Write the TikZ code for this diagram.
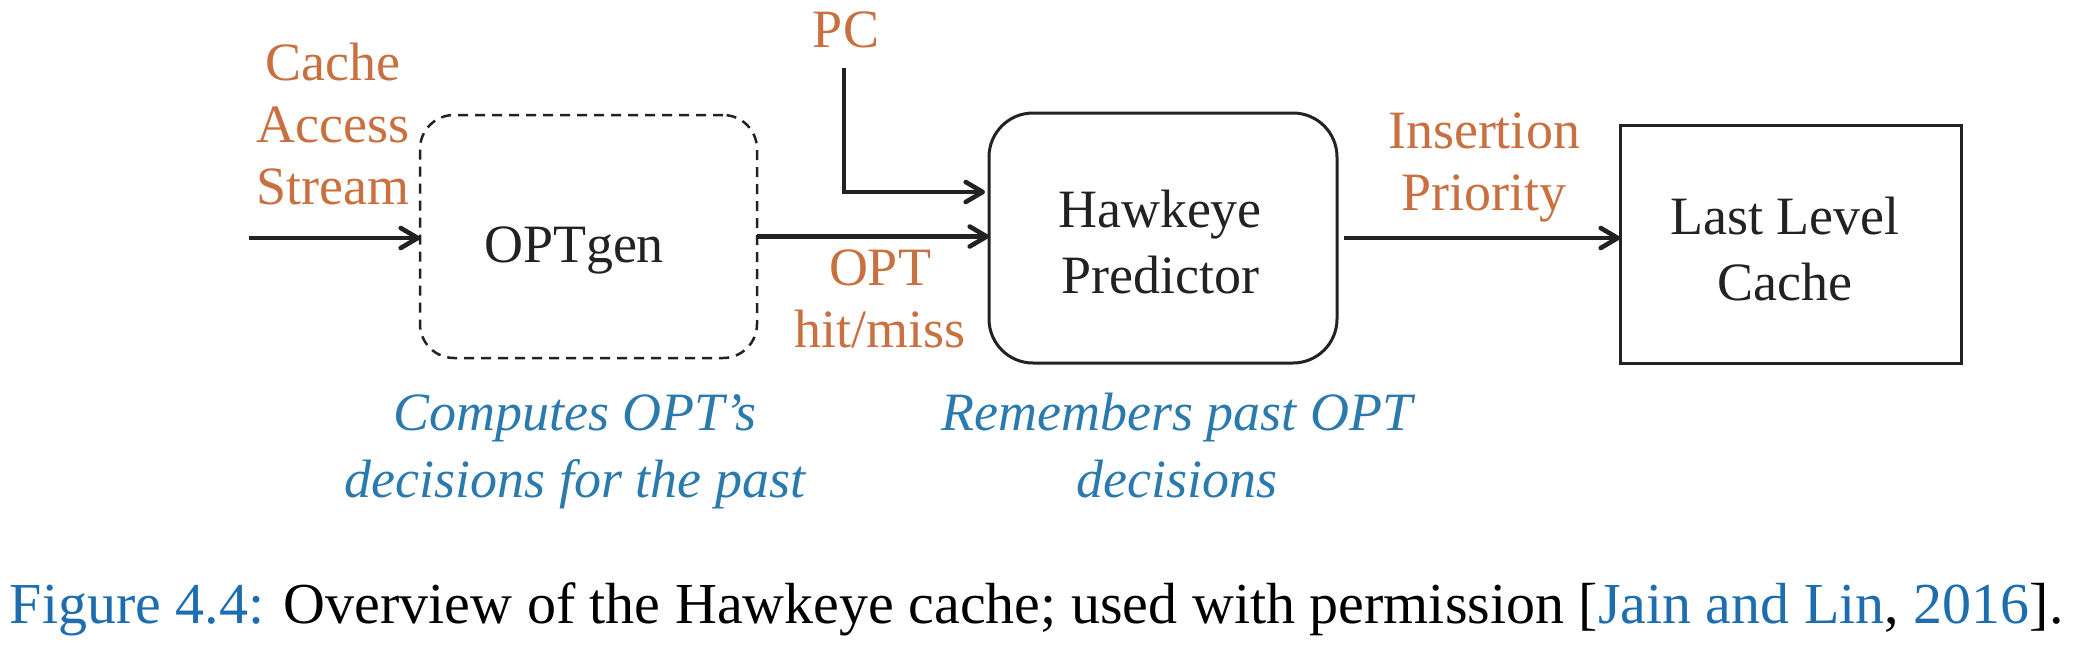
\documentclass[tikz,border=0pt]{standalone}
\usepackage{fontspec}
\setmainfont{Liberation Serif}
\usetikzlibrary{arrows.meta}
\definecolor{lbl}{RGB}{200,112,63}
\definecolor{note}{RGB}{42,122,174}
\definecolor{cite}{RGB}{30,110,175}
\definecolor{ink}{RGB}{34,34,34}
\begin{document}
\begin{tikzpicture}[x=0.5pt,y=-0.5pt,
  every node/.style={inner sep=0pt, outer sep=0pt},
  lbltext/.style={text=lbl, align=center, anchor=base, font=\fontsize{27}{31}\selectfont},
  maintext/.style={text=ink, align=center, anchor=base, font=\fontsize{27}{33}\selectfont},
  notetext/.style={text=note, align=center, anchor=base, font=\fontsize{27}{33.5}\selectfont\itshape},
  boxshape/.style={draw=ink, line width=1.5pt},
  conn/.style={draw=ink, line width=2.3pt, -{Straight Barb[length=8.5pt,width=10pt,round]}}
]
\useasboundingbox (0,0) rectangle (2073,644);

% boxes
\node[boxshape, dashed, dash pattern=on 5pt off 3.5pt, line width=1.25pt, rounded corners=17pt,
      minimum width=168.5pt, minimum height=121.5pt] (optgen) at (588.5,236.5) {};
\node[boxshape, rounded corners=22pt, minimum width=174pt, minimum height=125pt] (hawk) at (1163,238) {};
\node[boxshape, minimum width=170.5pt, minimum height=119pt] (llc) at (1790.5,244) {};

% box texts (anchor = baseline of the last line)
\node[maintext] (optgentxt) at (574,262) {OPTgen};
\node[maintext] (hawktxt) at (1160,293) {Hawkeye\\Predictor};
\node[maintext] (llctxt) at (1785,300) {Last Level\\Cache};

% orange labels
\node[lbltext] (cas) at (333,204) {Cache\\Access\\Stream};
\node[lbltext] (pc) at (846,47) {PC};
\node[lbltext] (opt) at (880,347) {OPT\\hit/miss};
\node[lbltext] (ins) at (1484,210) {Insertion\\Priority};

% blue notes
\node[notetext] (computes) at (575,497) {Computes OPT's\\decisions for the past};
\node[notetext] (remembers) at (1177,497) {Remembers past OPT\\decisions};

% connectors
\coordinate (src) at (249,238);
\coordinate (pctop) at (844,68);
\draw[conn] (src) -- (src -| optgen.west);
\draw[conn] (pctop) |- ([yshift=23pt,xshift=-2pt]hawk.west);
\draw[conn] (optgen.east) -- (optgen.east -| hawk.west);
\draw[conn, shorten <=3.5pt] (hawk.east) -- (hawk.east -| llc.west);

% caption
\node[anchor=base west, font=\fontsize{29}{33}\selectfont] (caption) at (10,623)
  {\textcolor{cite}{Figure 4.4:} Overview of the Hawkeye cache; used with permission [\textcolor{cite}{Jain and Lin}, \textcolor{cite}{2016}].};
\end{tikzpicture}
\end{document}
